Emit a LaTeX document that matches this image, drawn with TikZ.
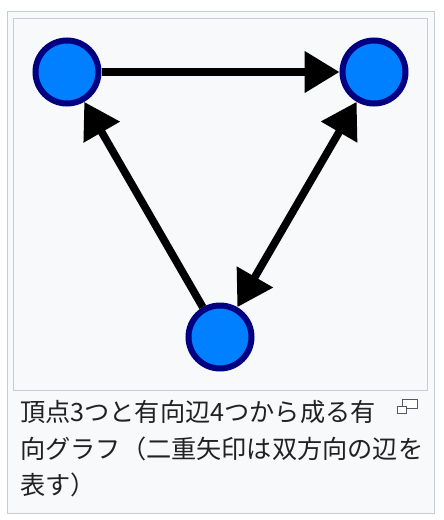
\documentclass[tikz,border=0pt]{standalone}
\usepackage{fontspec}
\setmainfont{Noto Sans CJK JP}
\usetikzlibrary{arrows.meta}
\definecolor{framefill}{HTML}{F8F9FA}
\definecolor{frameline}{HTML}{C8CCD1}
\definecolor{vfill}{HTML}{0080FF}
\definecolor{vline}{HTML}{000080}
\definecolor{captext}{HTML}{202122}
\definecolor{iconline}{HTML}{54595D}
\tikzset{
  vertex/.style={circle, draw=vline, fill=vfill, line width=6pt, minimum size=63pt, inner sep=0pt},
  edge/.style={line width=7.7pt, draw=black, -{Triangle[length=35pt, width=40pt]}},
  biedge/.style={line width=7.7pt, draw=black, {Triangle[length=35pt, width=40pt]}-{Triangle[length=35pt, width=40pt]}},
  frame/.style={draw=frameline, fill=framefill, line width=1pt},
  caption/.style={anchor=base west, inner sep=0pt, text=captext, font=\fontsize{25.2}{36.5}\selectfont},
  iconbox/.style={draw=iconline, line width=1.3pt}
}
\begin{document}
\begin{tikzpicture}[x=1pt, y=-1pt]
\useasboundingbox (0,0) rectangle (444,520);
\fill[white] (0,0) rectangle (444,520);
\draw[frame] (7.5,11) rectangle (434.5,513);
\draw[frame] (13.5,18.5) rectangle (427.5,390);
\node[vertex] (a) at (67,72) {};
\node[vertex] (b) at (374,72) {};
\node[vertex] (c) at (220,337) {};
\draw[edge] (a) -- (b);
\draw[edge] (c) -- (a);
\draw[biedge] (b) -- (c);
\node[caption] (l1) at (20,421) {頂点3つと有向辺4つから成る有};
\node[caption] (l2) at (20,458) {向グラフ（二重矢印は双方向の辺を};
\node[caption] (l3) at (20,494.5) {表す）};
\draw[iconbox, fill=white] (402.5,399.5) rectangle (417.5,408.5);
\draw[iconbox, fill=white] (397.5,406.5) rectangle (406.5,413.5);
\end{tikzpicture}
\end{document}
